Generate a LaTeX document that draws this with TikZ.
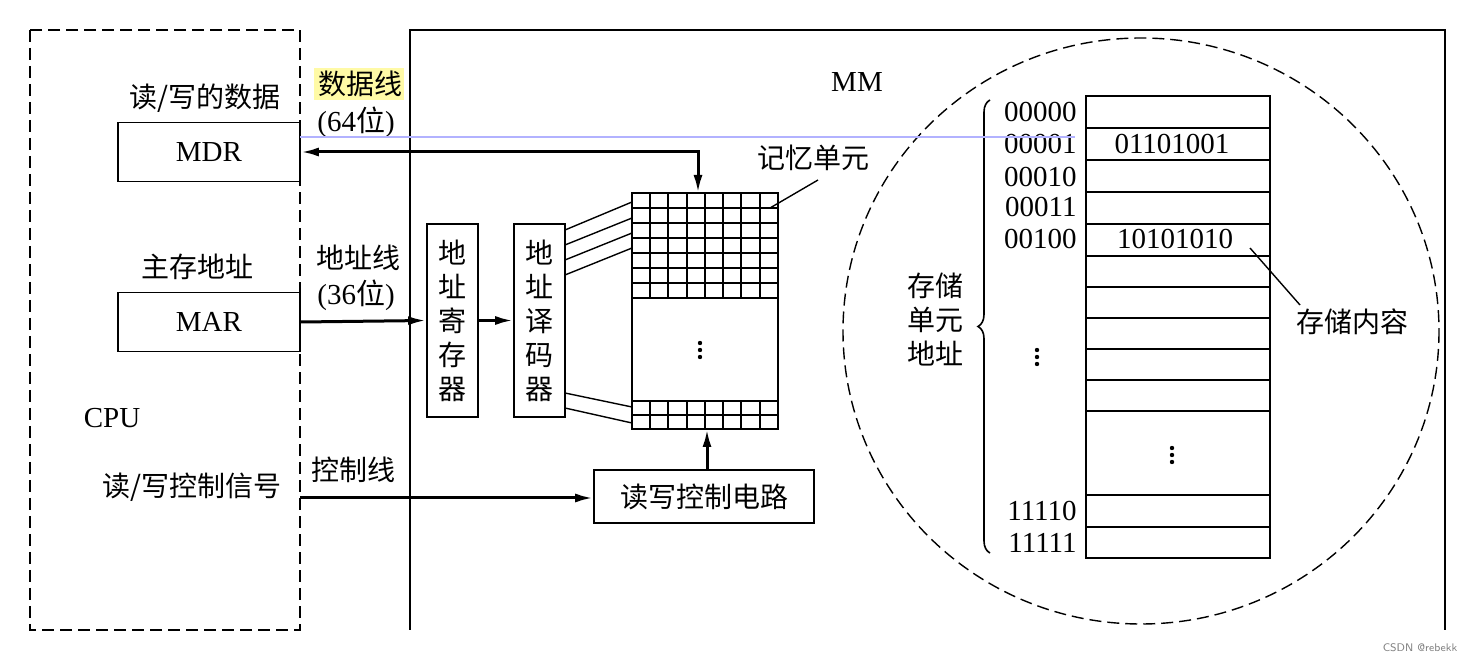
\documentclass[tikz,border=0pt]{standalone}
\usepackage{fontspec}
\setmainfont{Liberation Serif}
\newfontfamily\cjk{Noto Sans CJK SC}
\usetikzlibrary{arrows.meta,decorations.pathreplacing}
\begin{document}
\begin{tikzpicture}[x=0.5pt,y=-0.5pt,
  every node/.style={font=\fontsize{14.5}{17}\selectfont, inner sep=0pt},
  ln/.style={line width=0.7pt},
  box/.style={draw, line width=0.8pt},
  tip/.style={Latex[length=9pt,width=4.5pt]},
  bus/.style={line width=1.5pt, -{Latex[length=9pt,width=4.5pt]}},
  zh/.style={font=\fontsize{14}{17}\selectfont\cjk},
  vd/.pic={\foreach \d in {-7,0,7} \fill (0,\d) circle (1.1pt);}]
\useasboundingbox (0,0) rectangle (1474,662);
\fill[white] (0,0) rectangle (1474,662);
% frames
\draw[ln, dashed, dash pattern=on 6pt off 3pt] (30,30) rectangle (300,630);
\draw[ln] (410,630) -- (410,30) -- (1445,30) -- (1445,630);
% CPU side
\node[box, minimum width=91pt, minimum height=29.5pt] (mdr) at (209,152) {MDR};
\node[box, minimum width=91pt, minimum height=29.5pt] (mar) at (209,322) {MAR};
\node[zh] (rwdata) at (205,98) {读/写的数据};
\node[zh] (addr) at (197,267) {主存地址};
\node (cpu) at (112,418) {CPU};
\node[zh] (rwsig) at (192,487) {读/写控制信号};
\fill[yellow!35] (314,68) rectangle (404,100);
\node[zh] (dl) at (360,84) {数据线};
\node (d64) at (356,122) {(64{\cjk 位})};
\node[zh] (al) at (358,258) {地址线};
\node (a36) at (356,295) {(36{\cjk 位})};
\node[zh] (cl) at (353,470) {控制线};
\node (mm) at (857,82) {MM};
% MM internals
\node[box, minimum width=25.5pt, minimum height=96.5pt, zh, align=center] (areg) at (452.5,320.5) {地\\址\\寄\\存\\器};
\node[box, minimum width=25.5pt, minimum height=96.5pt, zh, align=center] (adec) at (539.5,320.5) {地\\址\\译\\码\\器};
\node[box, minimum width=110pt, minimum height=26.5pt, zh] (rwc) at (704,496.5) {读写控制电路};
\coordinate (gt) at (698,193);
\coordinate (gb) at (707,429);
% grid
\draw[ln] (632,193) rectangle (778,429);
\foreach \y in {208,223,238,253,268,283,298} \draw[ln] (632,\y) -- (778,\y);
\foreach \y in {401,415} \draw[ln] (632,\y) -- (778,\y);
\foreach \x in {650,668,687,705,723,741,760} {
  \draw[ln] (\x,193) -- (\x,298);
  \draw[ln] (\x,401) -- (\x,429);}
\pic at (700,350) {vd};
% decoder lines
\foreach \a/\b in {230/202,245/218,260/233,275/248,393/407,408/423}
  \draw[ln] (565,\a) -- (632,\b);
% buses
\draw[line width=1.5pt, {Latex[length=9pt,width=4.5pt]}-{Latex[length=9pt,width=4.5pt]}] (mdr.east) -- (698,152) -- (gt);
\draw[bus] (mar.east) -- (areg.west);
\draw[bus] (areg.east) -- (adec.west);
\draw[bus] (300,498) -- (rwc.west |- 0,498);
\draw[bus] (rwc.north -| gb) -- (gb);
\node[zh] (jy) at (813,158) {记忆单元};
\draw[ln] (770,208) -- (818,180);
% circle
\draw[ln, dashed, dash pattern=on 6pt off 3pt] (1141,331) ellipse [x radius=298, y radius=293];
\draw[ln] (1086,96) rectangle (1270,558);
\foreach \y in {128,160,192,224,256,287,318,349,380,411,495,527}
  \draw[ln] (1086,\y) -- (1270,\y);
\foreach \t/\y in {00000/112,00001/144,00010/177,00011/207,00100/239,11110/511,11111/543}
  \node[anchor=east] at (1077,\y) {\t};
\node at (1172,144) {01101001};
\node at (1175,239) {10101010};
\pic at (1037,357) {vd};
\pic at (1172,455) {vd};
\draw[line width=0.8pt, decorate, decoration={brace, amplitude=6pt}] (990,553) -- (990,100);
\node[zh, align=center] (sa) at (935,320) {存储\\单元\\地址};
\node[zh] (nr) at (1352,322) {存储内容};
\draw[ln] (1250,248) -- (1300,305);
% screenshot artifact line
\draw[blue!30, line width=1.2pt] (300,137) -- (1075,137);
\node[font=\fontsize{5.5}{6}\selectfont\sffamily, text=gray] at (1420,648) {CSDN @rebekk};
\end{tikzpicture}
\end{document}
